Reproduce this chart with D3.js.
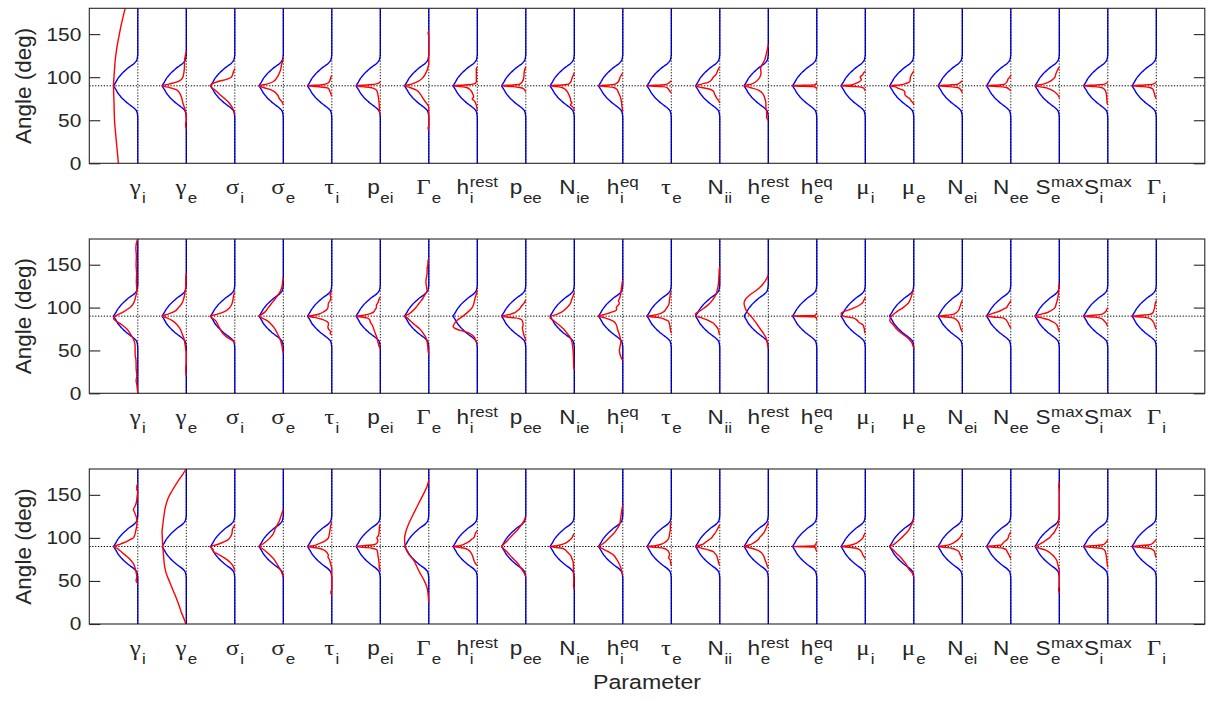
<!DOCTYPE html>
<html><head><meta charset="utf-8">
<script src="https://cdn.jsdelivr.net/npm/d3@7"></script>
<style>body{margin:0;background:#fff}svg{display:block}</style>
</head><body><svg id="c" width="1210" height="702"></svg>
<script>
// ---- categories / tick labels ----
const paramMain = ["γ","γ","σ","σ","τ","p","Γ","h","p","N","h","τ","N","h","h","μ","μ","N","N","S","S","Γ"];
const paramSub  = ["i","e","i","e","i","ei","e","i","ee","ie","i","e","ii","e","e","i","e","ei","ee","e","i","i"];
const paramSup  = ["","","","","","","","rest","","","eq","","","rest","eq","","","","","max","max",""];
const paramGreek = [1,1,1,1,1,0,1,0,0,0,0,1,0,0,0,1,1,0,0,0,0,1];
const yTicks = [0,50,100,150];

// ---- reference (blue) density, angle -> relative width ----
const blueAngles = [0,53,56,58,60,62,64,66,68,70,72,74,76,78,80,82,84,86,88,90,92,94,96,98,100,102,104,106,108,110,112,114,116,118,120,122,124,127,180];
const blueValues = [0,0,0.01,0.02,0.04,0.08,0.15,0.24,0.34,0.43,0.51,0.59,0.66,0.72,0.78,0.83,0.87,0.91,0.955,1,0.955,0.91,0.87,0.83,0.78,0.72,0.66,0.59,0.51,0.43,0.34,0.24,0.15,0.08,0.04,0.02,0.01,0,0];

// ---- red densities, [angle, relative width] per parameter ----
const redPanel1 = [
 [[0,0.8],[30,0.9],[50,0.96],[70,0.98],[90,1.0],[105,0.97],[120,0.93],[135,0.86],[150,0.76],[165,0.65],[180,0.52]],
 [[40,0],[45,0.03],[50,0],[56,0.01],[60,0.03],[65,0.08],[70,0.14],[75,0.18],[80,0.25],[85,0.38],[88,0.7],[90,1.0],[92,0.72],[95,0.32],[100,0.14],[110,0.08],[120,0.07],[125,0.04],[130,0]],
 [[57,0],[60,0.03],[65,0.11],[70,0.23],[75,0.41],[80,0.62],[85,0.82],[90,1.0],[95,0.69],[97.5,0.34],[100,0.14],[105,0.07],[108,0.03],[110,0]],
 [[68,0],[70,0.03],[72,0.07],[75,0.16],[80,0.25],[85,0.48],[88,0.82],[90,1],[92,0.68],[95,0.41],[100,0.25],[105,0.16],[110,0.1],[115,0.07],[118,0.03],[120,0.02],[122,0]],
 [[78,0],[80,0.03],[83,0.07],[85,0.1],[87,0.14],[88,0.27],[89,0.6],[90,1],[91,0.48],[92.5,0.2],[95,0.1],[97,0.07],[100,0.04],[102,0]],
 [[57,0],[60,0.03],[65,0.04],[70,0.05],[75,0.07],[80,0.1],[84,0.14],[86,0.2],[88,0.41],[89,0.75],[90,1],[91,0.58],[92,0.2],[93,0.07],[95,0]],
 [[38,0],[41,0.03],[44,0],[65,0],[67,0.03],[70,0.1],[72,0.16],[75,0.23],[80,0.34],[85,0.51],[88,0.78],[90,1],[92,0.71],[95,0.44],[100,0.23],[105,0.12],[108,0.07],[112,0.03],[115,0],[148,0],[151,0.03],[154,0]],
 [[62,0],[67,0.04],[70,0.07],[72,0.11],[75,0.21],[77,0.15],[80,0.18],[84,0.25],[86,0.32],[88,0.45],[89,0.66],[90,1],[91,0.52],[92,0.18],[93,0.07],[95,0.04],[100,0.04],[110,0.04],[112,0]],
 [[83,0],[85,0.04],[87,0.11],[88,0.25],[89,0.52],[90,1],[91,0.52],[92,0.25],[95,0.14],[100,0.08],[105,0.07],[110,0.03],[112,0]],
 [[62,0],[65,0.05],[68,0.16],[70,0.1],[72,0.14],[75,0.16],[80,0.23],[85,0.34],[88,0.51],[89,0.71],[90,1],[91,0.51],[92,0.23],[95,0.14],[100,0.08],[103,0.03],[105,0]],
 [[60,0],[65,0.03],[70,0.05],[75,0.08],[78,0.11],[82,0.18],[86,0.25],[88,0.38],[89,0.66],[90,1],[91,0.59],[92,0.32],[95,0.18],[100,0.11],[103,0.05],[105,0]],
 [[82,0],[84,0.07],[86,0.11],[88,0.18],[89,0.38],[90,1],[91,0.45],[92,0.18],[94,0.07],[96,0]],
 [[70,0],[72,0.03],[75,0.11],[80,0.21],[84,0.27],[86,0.41],[88,0.75],[90,1],[92,0.75],[94,0.48],[97,0.34],[100,0.27],[103,0.16],[106,0.11],[110,0.05],[112,0]],
 [[50,0],[53,0.07],[56,0.07],[60,0.07],[65,0.1],[70,0.1],[75,0.14],[80,0.21],[85,0.41],[88,0.75],[90,1],[92,0.7],[95,0.5],[100,0.35],[105,0.3],[110,0.32],[115,0.25],[120,0.15],[125,0.1],[130,0.06],[135,0.02],[138,0]],
 [[86,0],[88,0.05],[89,0.12],[89.7,0.9],[90,1],[90.3,0.9],[91,0.1],[92,0.04],[94,0]],
 [[84,0],[86,0.03],[88,0.1],[89,0.37],[90,1],[91,0.58],[93,0.37],[95,0.23],[97,0.16],[100,0.21],[103,0.1],[105,0.07],[107,0]],
 [[68,0],[70,0.03],[72,0.1],[75,0.16],[77,0.27],[80,0.37],[83,0.37],[85,0.44],[87,0.64],[89,0.78],[90,1],[91,0.58],[93,0.3],[95,0.16],[100,0.14],[105,0.05],[107,0]],
 [[82,0],[84,0.04],[86,0.08],[88,0.18],[89,0.52],[90,1],[91,0.52],[92,0.18],[94,0.08],[96,0]],
 [[84,0],[86,0.07],[88,0.18],[89,0.48],[90,1],[91,0.48],[92,0.25],[95,0.15],[98,0.11],[100,0.04],[103,0]],
 [[76,0],[78,0.03],[80,0.08],[82,0.15],[84,0.25],[86,0.38],[88,0.59],[90,1],[92,0.66],[95,0.38],[98,0.25],[100,0.18],[103,0.15],[106,0.11],[110,0.04],[112,0]],
 [[68,0],[70,0.03],[75,0.04],[82,0.07],[86,0.14],[88,0.27],[89,0.55],[90,1],[91,0.48],[92,0.14],[94,0]],
 [[75,0],[77,0.04],[80,0.07],[83,0.1],[86,0.14],[88,0.27],[89,0.55],[90,1],[91,0.48],[92,0.14],[94,0]]
];
const redPanel2 = [
 [[0,0],[5,0.02],[10,0.04],[15,0.07],[20,0.04],[30,0.07],[35,0.07],[40,0.08],[45,0.11],[50,0.11],[55,0.11],[60,0.14],[65,0.21],[70,0.32],[75,0.45],[80,0.66],[85,0.93],[87,1.0],[90,0.93],[95,0.59],[100,0.32],[105,0.18],[110,0.11],[115,0.07],[120,0.04],[130,0.06],[140,0.05],[150,0.07],[160,0.06],[170,0.08],[178,0.03],[180,0]],
 [[20,0],[25,0.02],[30,0.02],[35,0],[48,0],[50,0.02],[55,0.04],[60,0.07],[65,0.11],[70,0.18],[75,0.25],[80,0.38],[85,0.59],[88,0.8],[90,1],[92,0.8],[95,0.52],[100,0.32],[105,0.18],[110,0.11],[115,0.07],[120,0.04],[125,0.02],[130,0.02],[135,0.02],[140,0]],
 [[58,0],[60,0.03],[62,0.12],[65,0.3],[70,0.5],[75,0.6],[80,0.7],[85,0.8],[87,0.89],[90,1],[92,0.75],[95,0.45],[100,0.21],[105,0.11],[110,0.07],[115,0.04],[118,0]],
 [[47,0],[50,0.03],[55,0.05],[60,0.1],[65,0.16],[70,0.25],[75,0.34],[80,0.48],[85,0.68],[88,0.89],[90,1],[92,0.89],[95,0.75],[100,0.62],[105,0.48],[110,0.34],[115,0.21],[120,0.11],[125,0.05],[130,0.03],[135,0]],
 [[68,0],[70,0.07],[72,0.04],[75,0.14],[78,0.16],[80,0.14],[82,0.14],[84,0.21],[86,0.37],[88,0.62],[89,0.82],[90,1],[91,0.75],[93,0.48],[95,0.34],[97,0.23],[100,0.16],[105,0.14],[108,0.07],[112,0.04],[115,0.07],[118,0.03],[120,0]],
 [[52,0],[55,0.05],[60,0.1],[65,0.14],[70,0.21],[75,0.27],[80,0.34],[83,0.41],[86,0.44],[88,0.55],[89,0.75],[90,1],[91,0.68],[93,0.41],[95,0.27],[98,0.21],[100,0.16],[103,0.16],[105,0.11],[108,0.07],[110,0.05],[112,0]],
 [[45,0],[50,0.03],[55,0.04],[60,0.07],[65,0.12],[70,0.23],[75,0.37],[80,0.58],[85,0.78],[88,0.89],[90,1],[92,0.85],[95,0.71],[100,0.53],[105,0.4],[110,0.26],[115,0.16],[120,0.07],[125,0.1],[130,0.12],[135,0.1],[140,0.07],[145,0.07],[150,0.04],[155,0.03],[157,0]],
 [[58,0],[60,0.04],[62,0.07],[65,0.11],[67,0.18],[70,0.32],[72,0.52],[75,0.86],[78,1.0],[80,0.97],[85,0.84],[90,0.59],[95,0.38],[100,0.21],[105,0.14],[110,0.1],[115,0.05],[120,0]],
 [[62,0],[65,0.04],[68,0.08],[72,0.11],[76,0.14],[80,0.11],[84,0.14],[86,0.18],[88,0.45],[89,0.8],[90,1],[92,0.66],[94,0.45],[96,0.36],[98,0.27],[100,0.22],[103,0.14],[105,0.08],[107,0.04],[109,0]],
 [[27,0],[30,0.02],[35,0.03],[40,0.03],[45,0.04],[50,0.05],[55,0.07],[60,0.1],[65,0.16],[70,0.3],[75,0.44],[80,0.64],[85,0.86],[88,1.0],[90,0.95],[92,0.72],[95,0.51],[100,0.3],[105,0.16],[110,0.1],[115,0.03],[118,0]],
 [[38,0],[40,0.04],[45,0.11],[50,0.14],[55,0.11],[60,0.08],[65,0.11],[70,0.16],[75,0.22],[80,0.27],[84,0.38],[86,0.53],[88,0.74],[90,1],[92,0.74],[94,0.53],[96,0.33],[98,0.25],[100,0.27],[102,0.22],[105,0.14],[108,0.18],[110,0.14],[113,0.11],[117,0.08],[120,0.07],[125,0.04],[130,0.02],[132,0]],
 [[70,0],[72,0.02],[75,0.04],[80,0.07],[84,0.11],[86,0.25],[88,0.45],[89,0.73],[90,1],[91,0.73],[93,0.45],[95,0.32],[97,0.25],[100,0.18],[103,0.11],[107,0.08],[110,0.07],[113,0.05],[116,0.04],[118,0]],
 [[68,0],[70,0.03],[72,0.04],[75,0.07],[78,0.14],[80,0.21],[82,0.27],[84,0.41],[86,0.55],[88,0.75],[90,0.96],[92,1.0],[94,0.96],[96,0.82],[100,0.62],[105,0.41],[110,0.27],[115,0.16],[120,0.11],[125,0.07],[130,0.05],[135,0.04],[140,0.03],[145,0.02],[148,0]],
 [[52,0],[55,0.02],[60,0.05],[65,0.1],[70,0.2],[75,0.33],[80,0.45],[85,0.58],[90,0.72],[95,0.88],[100,0.96],[105,1.0],[110,0.93],[115,0.75],[120,0.5],[125,0.3],[130,0.15],[135,0.05],[138,0]],
 [[86,0],[88,0.03],[89.3,0.1],[89.8,0.9],[90,1],[90.2,0.9],[90.7,0.1],[92,0.03],[94,0]],
 [[70,0],[72,0.03],[75,0.04],[78,0.07],[80,0.1],[82,0.23],[84,0.3],[86,0.37],[88,0.51],[90,0.92],[93,1.0],[95,0.92],[97,0.71],[100,0.44],[103,0.23],[106,0.1],[108,0.07],[110,0.03],[112,0]],
 [[52,0],[55,0.03],[57,0.05],[60,0.1],[62,0.16],[65,0.27],[70,0.51],[75,0.71],[80,0.85],[85,0.99],[90,0.92],[95,0.71],[100,0.44],[105,0.23],[110,0.14],[115,0.08],[118,0.05],[120,0]],
 [[72,0],[74,0.04],[77,0.08],[80,0.11],[84,0.18],[86,0.25],[88,0.38],[89,0.66],[90,1],[91,0.66],[92,0.38],[94,0.25],[97,0.15],[100,0.11],[103,0.07],[106,0.04],[108,0]],
 [[76,0],[78,0.04],[80,0.08],[82,0.11],[84,0.15],[86,0.21],[88,0.32],[89,0.73],[90,1],[92,0.86],[94,0.66],[96,0.45],[98,0.32],[100,0.18],[103,0.11],[106,0.04],[108,0]],
 [[72,0],[75,0.04],[78,0.07],[80,0.11],[82,0.18],[84,0.32],[86,0.45],[88,0.73],[90,1],[92,0.79],[94,0.52],[96,0.38],[98,0.25],[100,0.18],[103,0.14],[106,0.11],[110,0.07],[115,0.04],[120,0.03],[125,0.02],[128,0]],
 [[78,0],[80,0.04],[82,0.07],[84,0.14],[86,0.2],[88,0.34],[89,0.62],[90,1],[91,0.62],[92,0.27],[94,0.14],[96,0.07],[98,0.04],[100,0]],
 [[75,0],[77,0.04],[80,0.07],[84,0.14],[86,0.2],[88,0.34],[89,0.62],[90,1],[91,0.62],[92,0.27],[94,0.14],[97,0.1],[100,0.07],[105,0.04],[108,0]]
];
const redPanel3 = [
 [[47,0],[50,0.07],[55,0.04],[60,0.07],[65,0.11],[70,0.18],[75,0.32],[80,0.52],[85,0.73],[88,0.86],[90,1],[92,0.8],[95,0.52],[98,0.32],[100,0.18],[105,0.11],[110,0.07],[115,0.04],[120,0.03],[125,0.07],[130,0.14],[133,0.18],[137,0.11],[140,0.07],[145,0.04],[150,0.02],[153,0],[156,0.04],[160,0.04],[163,0]],
 [[0,0.02],[5,0.08],[14,0.21],[20,0.28],[30,0.41],[40,0.56],[49,0.69],[60,0.84],[68,0.9],[80,0.94],[90,0.97],[100,0.99],[107,1.0],[115,0.97],[126,0.92],[136,0.86],[146,0.75],[155,0.58],[166,0.34],[175,0.12],[180,0.01]],
 [[62,0],[65,0.04],[67,0.07],[70,0.14],[72,0.21],[75,0.34],[80,0.62],[82,0.75],[84,0.89],[86,0.89],[88,0.96],[90,1],[92,0.75],[95,0.48],[98,0.27],[100,0.21],[103,0.14],[106,0.11],[110,0.1],[113,0.04],[115,0]],
 [[55,0],[57,0.03],[60,0.07],[65,0.16],[70,0.27],[75,0.38],[80,0.55],[85,0.75],[88,0.89],[90,1],[92,0.89],[95,0.75],[100,0.55],[105,0.41],[110,0.34],[115,0.25],[120,0.16],[125,0.1],[130,0.04],[133,0]],
 [[33,0],[37,0.04],[41,0],[65,0],[68,0.03],[72,0.07],[75,0.1],[78,0.16],[80,0.14],[82,0.18],[84,0.23],[86,0.34],[88,0.55],[89,0.82],[90,1],[91,0.75],[93,0.55],[95,0.37],[98,0.21],[100,0.14],[105,0.1],[110,0.07],[115,0.04],[118,0]],
 [[62,0],[65,0.04],[70,0.05],[75,0.07],[80,0.1],[83,0.11],[86,0.14],[88,0.34],[89,0.68],[90,1],[91,0.68],[92,0.27],[94,0.14],[97,0.1],[100,0.14],[103,0.07],[107,0.05],[110,0.04],[113,0.04],[116,0]],
 [[25,0],[28,0.01],[35,0.03],[43,0.08],[51,0.2],[59,0.36],[67,0.5],[74,0.62],[80,0.8],[90,0.97],[99,1.0],[107,0.95],[117,0.82],[128,0.63],[140,0.42],[152,0.2],[160,0.07],[167,0]],
 [[68,0],[70,0.07],[72,0.11],[75,0.15],[80,0.21],[84,0.29],[86,0.38],[88,0.52],[89,0.73],[90,1],[91,0.73],[93,0.52],[95,0.38],[98,0.25],[100,0.15],[103,0.1],[106,0.07],[108,0]],
 [[55,0],[57,0.03],[60,0.08],[64,0.18],[67,0.25],[70,0.32],[75,0.49],[80,0.66],[85,0.82],[88,0.93],[90,1],[92,0.93],[95,0.82],[100,0.66],[105,0.49],[110,0.32],[115,0.18],[120,0.07],[123,0.03],[125,0]],
 [[40,0],[45,0.03],[50,0.02],[60,0.03],[70,0.04],[72,0.05],[76,0.1],[80,0.16],[82,0.23],[84,0.3],[86,0.37],[88,0.51],[89,0.79],[90,1],[91,0.72],[93,0.44],[95,0.3],[98,0.16],[100,0.1],[103,0.05],[105,0]],
 [[57,0],[60,0.04],[65,0.08],[70,0.15],[75,0.25],[80,0.38],[85,0.67],[88,0.88],[90,1],[92,0.88],[95,0.74],[100,0.56],[105,0.38],[110,0.25],[115,0.14],[120,0.1],[125,0.08],[130,0.05],[134,0.03],[138,0]],
 [[68,0],[70,0.02],[74,0.04],[77,0.11],[80,0.07],[84,0.11],[86,0.18],[88,0.32],[89,0.66],[90,1],[91,0.66],[93,0.38],[95,0.25],[98,0.14],[100,0.1],[105,0.07],[110,0.04],[115,0.04],[118,0]],
 [[68,0],[70,0.04],[74,0.07],[77,0.1],[80,0.14],[82,0.21],[84,0.27],[86,0.48],[88,0.75],[90,1],[92,0.75],[95,0.58],[98,0.44],[100,0.34],[103,0.27],[105,0.21],[108,0.14],[110,0.1],[113,0.05],[115,0]],
 [[65,0],[67,0.04],[70,0.07],[72,0.1],[75,0.14],[80,0.21],[84,0.34],[86,0.48],[88,0.68],[90,1],[92,0.75],[94,0.62],[96,0.51],[98,0.41],[100,0.37],[103,0.27],[106,0.18],[110,0.11],[113,0.07],[115,0.04],[118,0]],
 [[84,0],[86,0.03],[88,0.06],[89.3,0.1],[89.8,0.9],[90,1],[90.2,0.9],[90.7,0.12],[92,0.06],[94,0.02],[96,0]],
 [[76,0],[78,0.05],[80,0.1],[84,0.16],[86,0.23],[88,0.37],[89,0.64],[90,1],[91,0.71],[93,0.44],[95,0.3],[98,0.16],[100,0.1],[102,0.07],[104,0.04],[106,0]],
 [[55,0],[57,0.03],[60,0.08],[62,0.16],[65,0.23],[70,0.33],[75,0.47],[80,0.64],[85,0.82],[88,0.92],[90,1],[92,0.85],[95,0.71],[100,0.51],[105,0.33],[110,0.19],[115,0.1],[118,0.05],[120,0.02],[122,0]],
 [[74,0],[76,0.03],[78,0.04],[80,0.08],[82,0.11],[84,0.14],[86,0.25],[88,0.45],[89,0.73],[90,1],[91,0.73],[93,0.45],[95,0.32],[98,0.18],[100,0.11],[103,0.04],[105,0]],
 [[76,0],[78,0.04],[80,0.07],[82,0.11],[84,0.15],[86,0.18],[88,0.32],[89,0.66],[90,1],[91,0.66],[92,0.38],[94,0.32],[96,0.25],[98,0.15],[100,0.11],[103,0.08],[105,0.04],[107,0]],
 [[36,0],[40,0.03],[44,0],[62,0],[65,0.03],[67,0.04],[70,0.07],[74,0.11],[77,0.18],[80,0.27],[82,0.36],[84,0.45],[86,0.59],[88,0.82],[90,1],[92,0.86],[95,0.66],[98,0.52],[100,0.41],[103,0.32],[106,0.22],[110,0.14],[113,0.08],[116,0.04],[120,0.03],[125,0],[155,0],[160,0.02],[165,0]],
 [[66,0],[70,0.03],[75,0.04],[80,0.07],[84,0.1],[86,0.14],[88,0.27],[89,0.68],[90,1],[91,0.62],[92,0.2],[94,0.1],[96,0.04],[98,0]],
 [[77,0],[80,0.04],[84,0.07],[86,0.14],[88,0.27],[89,0.68],[90,1],[91,0.68],[92,0.27],[94,0.14],[96,0.07],[98,0]]
];
const redPanels = [redPanel1, redPanel2, redPanel3];

// ---- layout ----
const panelTop = [8.3, 239, 469];
const panelBottom = [163.3, 393.3, 624];
const plotLeft = 89.3, plotRight = 1204.8;
const halfWidth = 0.5;
const textStretch = 1.13;
const axisColor = "#262626";

const svg = d3.select("#c");
const x = d3.scaleLinear().domain([0, 23]).range([plotLeft, plotRight]);

function stretchText(sel, ax){
  sel.attr("transform", `translate(${ax},0) scale(${textStretch},1) translate(${-ax},0)`);
}

const blueData = blueAngles.map((a, k) => [a, blueValues[k]]);
const blueLower = blueData.filter(d => d[0] <= 90);
const blueUpper = blueData.filter(d => d[0] >= 90);

redPanels.forEach((reds, pi) => {
  const y = d3.scaleLinear().domain([0, 180]).range([panelBottom[pi], panelTop[pi]]);
  const g = svg.append("g");

  // blue reference densities (cusp kept at 90 by drawing each side separately)
  paramMain.forEach((_, i) => {
    const base = i + 1;
    const line = d3.line().x(d => x(base - halfWidth * d[1])).y(d => y(d[0])).curve(d3.curveMonotoneY);
    [blueLower, blueUpper].forEach(part => {
      g.append("path").attr("d", line(part)).attr("fill", "none")
        .attr("stroke", "#0000ff").attr("stroke-width", 1.4).attr("stroke-linejoin", "round");
    });
  });

  // dotted reference lines
  paramMain.forEach((_, i) => {
    g.append("line").attr("x1", x(i + 1)).attr("x2", x(i + 1))
      .attr("y1", y(0)).attr("y2", y(180))
      .attr("stroke", "#000").attr("stroke-width", 0.9).attr("stroke-dasharray", "1.3,1.6");
  });
  g.append("line").attr("x1", x(0)).attr("x2", x(23)).attr("y1", y(90)).attr("y2", y(90))
    .attr("stroke", "#000").attr("stroke-width", 1).attr("stroke-dasharray", "1.3,1.6");

  // red densities
  reds.forEach((pts, i) => {
    const base = i + 1;
    const line = d3.line().x(d => x(base - halfWidth * d[1])).y(d => y(d[0])).curve(d3.curveMonotoneY);
    g.append("path").attr("d", line(pts)).attr("fill", "none")
      .attr("stroke", "#ff0000").attr("stroke-width", 1.4);
  });

  // frame
  g.append("rect").attr("x", plotLeft).attr("y", panelTop[pi])
    .attr("width", plotRight - plotLeft).attr("height", panelBottom[pi] - panelTop[pi])
    .attr("fill", "none").attr("stroke", axisColor).attr("stroke-width", 1.1);

  // left axis
  const ax = g.append("g").attr("transform", `translate(${plotLeft},0)`)
    .call(d3.axisLeft(y).tickValues(yTicks).tickSize(-11).tickPadding(8));
  ax.select(".domain").remove();
  ax.selectAll(".tick line").attr("stroke", axisColor).attr("stroke-width", 1.1);
  ax.selectAll(".tick text").attr("fill", axisColor)
    .style("font-family", "'Liberation Sans', Arial, sans-serif").style("font-size", "18.5px")
    .each(function(){ stretchText(d3.select(this), -8); });

  // right axis ticks
  const ar = g.append("g").attr("transform", `translate(${plotRight},0)`)
    .call(d3.axisRight(y).tickValues(yTicks).tickSize(-11).tickFormat(""));
  ar.select(".domain").remove();
  ar.selectAll(".tick line").attr("stroke", axisColor).attr("stroke-width", 1.1);

  // y label
  const midY = (panelTop[pi] + panelBottom[pi]) / 2;
  g.append("text").attr("transform", `translate(31,${midY}) rotate(-90)`)
    .attr("text-anchor", "middle").attr("fill", axisColor)
    .style("font-family", "'Liberation Sans', Arial, sans-serif").style("font-size", "22.5px")
    .text("Angle (deg)");

  // x tick labels
  const baseY = panelBottom[pi] + 31;
  paramMain.forEach((m, i) => {
    const lg = g.append("g");
    const inner = lg.append("g");
    const mt = inner.append("text").attr("x", 0).attr("y", 0).attr("fill", axisColor)
      .style("font-family", paramGreek[i] ? "'Liberation Serif', 'Times New Roman', serif" : "'Liberation Sans', Arial, sans-serif")
      .style("font-size", paramGreek[i] ? "22px" : "20px").text(m);
    const mw = mt.node().getComputedTextLength() + (paramGreek[i] ? 1 : 0.5);
    let sw = 0, pw = 0;
    if (paramSub[i]) {
      const st = inner.append("text").attr("x", mw).attr("y", 9).attr("fill", axisColor)
        .style("font-family", "'Liberation Sans', Arial, sans-serif").style("font-size", "15px").text(paramSub[i]);
      sw = st.node().getComputedTextLength();
    }
    if (paramSup[i]) {
      const pt = inner.append("text").attr("x", mw).attr("y", -7).attr("fill", axisColor)
        .style("font-family", "'Liberation Sans', Arial, sans-serif").style("font-size", "15px").text(paramSup[i]);
      pw = pt.node().getComputedTextLength();
    }
    const total = (mw + Math.max(sw, pw)) * textStretch;
    inner.attr("transform", `scale(${textStretch},1)`);
    lg.attr("transform", `translate(${x(i + 1) - total / 2},${baseY})`);
  });
});

// x axis title
const cx = (plotLeft + plotRight) / 2;
svg.append("text").attr("x", cx).attr("y", 689)
  .attr("text-anchor", "middle").attr("fill", axisColor)
  .style("font-family", "'Liberation Sans', Arial, sans-serif").style("font-size", "20.5px")
  .attr("transform", `translate(${cx},0) scale(${textStretch},1) translate(${-cx},0)`)
  .text("Parameter");
</script></body></html>
